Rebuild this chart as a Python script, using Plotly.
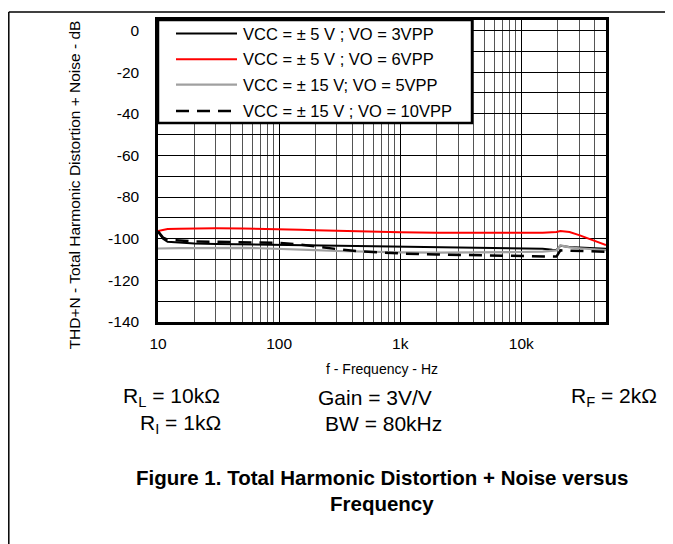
import plotly.graph_objects as go

# frequency points (Hz)
freq = [10, 11, 12, 15, 20, 30, 50, 70, 100, 150, 200, 300, 500, 700, 1000, 2000, 3000,
        5000, 7000, 10000, 15000, 18000, 19500, 21000, 25000, 30000, 40000, 50000]

# THD+N in dB for each curve
vcc5_3vpp = [-96.5, -100.0, -101.5, -102.0, -102.3, -102.5, -102.7, -102.8, -102.9, -103.1, -103.3,
             -103.5, -103.7, -103.8, -103.9, -104.1, -104.2, -104.3, -104.4, -104.5, -104.8, -105.3,
             -105.4, -103.4, -104.0, -104.2, -104.5, -104.8]
vcc5_6vpp = [-96.3, -95.6, -95.3, -95.2, -95.0, -95.0, -95.1, -95.2, -95.3, -95.7, -96.0, -96.3,
             -96.6, -96.8, -96.9, -97.1, -97.2, -97.2, -97.2, -97.2, -97.2, -97.1, -96.8, -96.3,
             -96.8, -98.3, -101.0, -103.0]
vcc15_5vpp = [-104.7, -104.6, -104.6, -104.5, -104.5, -104.3, -104.4, -104.6, -104.8, -105.2, -105.5,
              -105.9, -106.3, -106.5, -106.6, -106.7, -106.7, -106.6, -106.5, -106.4, -106.2, -106.0,
              -105.6, -103.2, -104.2, -104.6, -105.2, -105.5]
vcc15_10vpp = [-96.5, -99.5, -100.5, -101.0, -101.3, -101.5, -101.7, -101.8, -102.0, -102.8, -103.8,
               -105.0, -106.2, -106.8, -107.1, -107.6, -107.8, -107.9, -108.0, -108.1, -108.3, -108.5,
               -108.6, -105.6, -105.8, -106.0, -106.2, -106.3]

names = ["VCC = \u00b1 5 V ; VO = 3VPP", "VCC = \u00b1 5 V ; VO = 6VPP",
         "VCC = \u00b1 15 V; VO = 5VPP", "VCC = \u00b1 15 V ; VO = 10VPP"]
series = [vcc5_3vpp, vcc5_6vpp, vcc15_5vpp, vcc15_10vpp]
colors = ["black", "#ff0000", "#a0a0a0", "black"]
dashes = ["solid", "solid", "solid", "13px,8px"]
widths = [2, 2, 2.2, 2.5]

x_ticks = [10, 100, 1000, 10000]
x_labels = ["10", "100", "1k", "10k"]
y_ticks = [0, -20, -40, -60, -80, -100, -120, -140]
y_labels = ["0", "-20", "-40", "-60", "-80", "-100", "-120", "-140"]

FONT = "Arial, Liberation Sans, sans-serif"

fig = go.Figure()
for name, y, c, d, w in zip(names, series, colors, dashes, widths):
    fig.add_trace(go.Scatter(x=freq, y=y, mode="lines", name=name,
                             line=dict(color=c, dash=d, width=w), showlegend=False))

fig.update_xaxes(
    type="log", range=[1, 4.69897],
    tickvals=x_ticks, ticktext=x_labels,
    showgrid=True, gridcolor="black", gridwidth=1,
    minor=dict(dtick="D1", showgrid=True, gridcolor="#555555", gridwidth=1),
    showline=True, mirror=True, linecolor="black", linewidth=2.5,
    ticks="", ticklabelstandoff=6, tickfont=dict(size=15.5, color="black"),
    zeroline=False,
)
fig.update_yaxes(
    range=[-140, 5], tickvals=y_ticks, ticktext=y_labels,
    showgrid=True, gridcolor="black", gridwidth=1,
    minor=dict(dtick=10, showgrid=True, gridcolor="black", gridwidth=1),
    showline=True, mirror=True, linecolor="black", linewidth=2.5,
    ticks="", ticklabelstandoff=13, tickfont=dict(size=15.5, color="black"),
    zeroline=False,
)

# page pixel -> paper helpers (plot area sits at page 158..606 x 17..322)
def xp(px):
    return (px - 158) / 448.0

def yp(py):
    return (322 - py) / 305.0

shapes = []
# outer frame (left and top)
shapes.append(dict(type="line", xref="paper", yref="paper", x0=xp(8.8), x1=xp(8.8), y0=yp(8.8), y1=yp(560),
                   line=dict(color="black", width=1.5)))
shapes.append(dict(type="line", xref="paper", yref="paper", x0=xp(8.8), x1=xp(690), y0=yp(8.8), y1=yp(8.8),
                   line=dict(color="black", width=1.5)))
# legend box
shapes.append(dict(type="rect", xref="paper", yref="paper", x0=0, x1=xp(472), y0=yp(121), y1=1,
                   fillcolor="white", line=dict(color="black", width=2.5), layer="above"))

annotations = []
leg_y = [30.7, 56.7, 82.3, 109]
for name, c, d, w, py in zip(names, colors, dashes, widths, leg_y):
    shapes.append(dict(type="line", xref="paper", yref="paper", x0=xp(176), x1=xp(237),
                       y0=yp(py), y1=yp(py), layer="above",
                       line=dict(color=c, width=w, dash=d)))
    annotations.append(dict(text=name, xref="paper", yref="paper", x=xp(241), y=yp(py),
                            xanchor="left", yanchor="middle", showarrow=False,
                            font=dict(size=16.5, color="black")))

annotations.append(dict(text="THD+N - Total Harmonic Distortion + Noise - dB", textangle=-90,
                        xref="paper", yref="paper", x=xp(74), y=yp(184), showarrow=False,
                        xanchor="center", yanchor="middle", font=dict(size=15.5, color="black")))
annotations.append(dict(text="f - Frequency - Hz", xref="paper", yref="paper", x=xp(382), y=yp(369),
                        showarrow=False, xanchor="center", yanchor="middle",
                        font=dict(size=14, color="black")))

cond = [("R<sub>L</sub> = 10k\u03a9", 171, 398), ("Gain = 3V/V", 375, 398), ("R<sub>F</sub> = 2k\u03a9", 614, 398),
        ("R<sub>I</sub> = 1k\u03a9", 180, 425), ("BW = 80kHz", 383, 425)]
for t, px, py in cond:
    annotations.append(dict(text=t, xref="paper", yref="paper", x=xp(px), y=yp(py), showarrow=False,
                            xanchor="center", yanchor="middle", font=dict(size=21, color="black")))

annotations.append(dict(text="<b>Figure 1. Total Harmonic Distortion + Noise versus</b>", xref="paper",
                        yref="paper", x=xp(382), y=yp(479), showarrow=False, xanchor="center",
                        yanchor="middle", font=dict(size=20.5, color="black")))
annotations.append(dict(text="<b>Frequency</b>", xref="paper", yref="paper", x=xp(382), y=yp(505),
                        showarrow=False, xanchor="center", yanchor="middle",
                        font=dict(size=20.5, color="black")))

# the page body adds an 8px margin, so the figure is 8px smaller and shifted
fig.update_layout(
    autosize=False, width=665, height=536,
    margin=dict(l=150, r=67, t=9, b=222),
    paper_bgcolor="white", plot_bgcolor="white",
    font=dict(family=FONT, color="black"),
    shapes=shapes, annotations=annotations,
    showlegend=False,
)

fig.write_html("out.html")
